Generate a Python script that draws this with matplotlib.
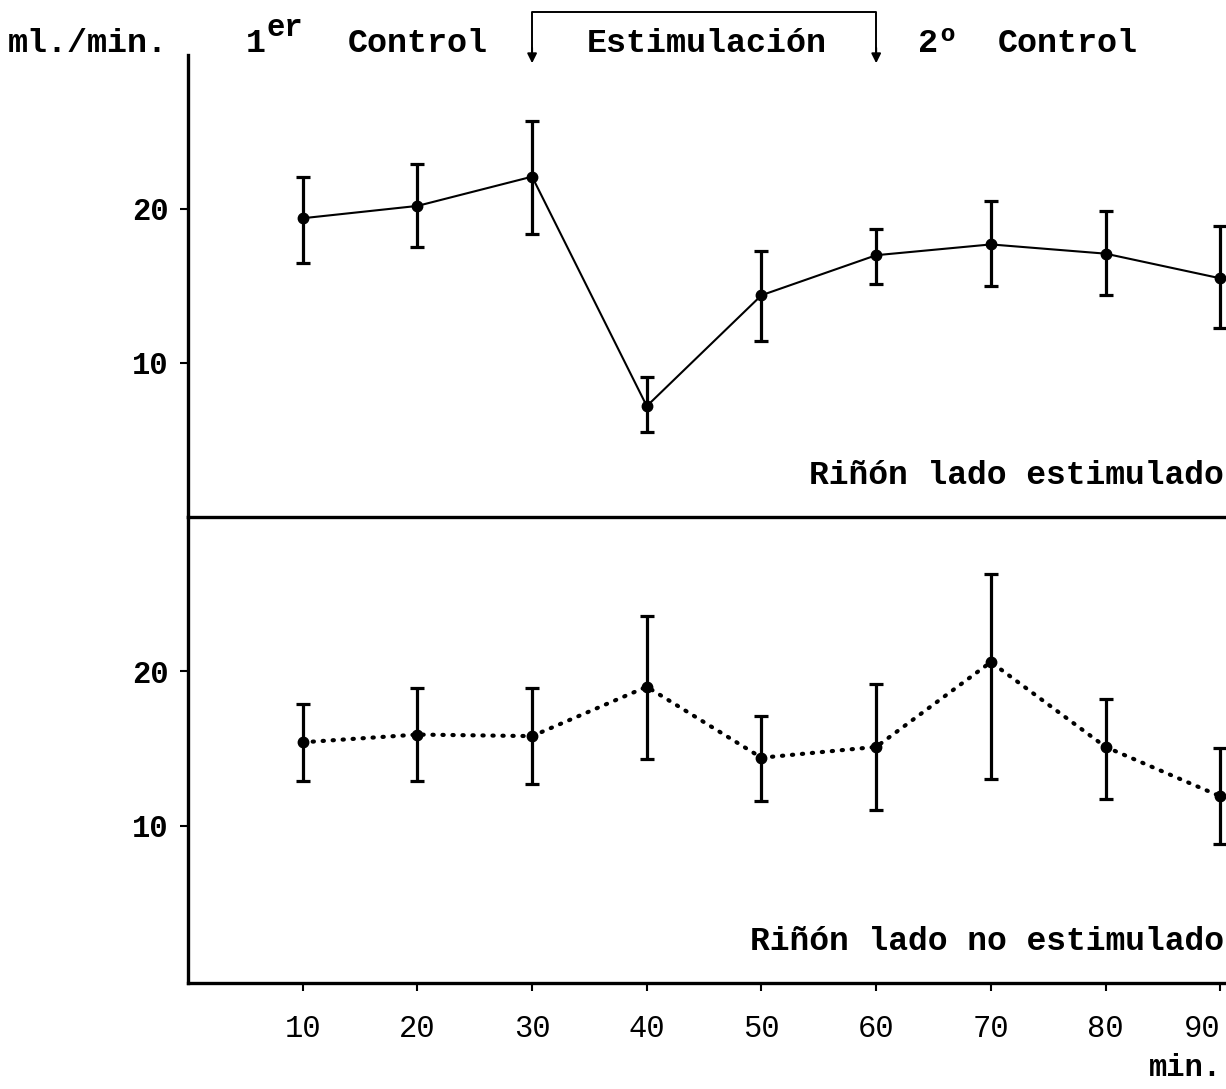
import numpy as np
import matplotlib
matplotlib.use("Agg")
import matplotlib.pyplot as plt
import matplotlib.transforms as mtransforms

# minutes
minutos = [10, 20, 30, 40, 50, 60, 70, 80, 90]

# Riñón lado estimulado (ml./min.)
est_media = [19.4, 20.2, 22.1, 7.2, 14.4, 17.0, 17.7, 17.1, 15.5]
est_sup = [22.1, 22.9, 25.7, 9.1, 17.3, 18.7, 20.5, 19.9, 18.9]
est_inf = [16.5, 17.5, 18.4, 5.5, 11.4, 15.1, 15.0, 14.4, 12.3]

# Riñón lado no estimulado (ml./min.)
noest_media = [15.4, 15.9, 15.8, 19.0, 14.4, 15.1, 20.6, 15.1, 11.9]
noest_sup = [17.9, 18.9, 18.9, 23.6, 17.1, 19.2, 26.3, 18.2, 15.0]
noest_inf = [12.9, 12.9, 12.7, 14.3, 11.6, 11.0, 13.0, 11.7, 8.8]

yticks = [10, 20]
xticks = [10, 20, 30, 40, 50, 60, 70, 80, 90]

FONT = "Liberation Mono"
W, H = 1226, 1089

fig = plt.figure(figsize=(W / 100, H / 100), dpi=100)
left = 188 / W
ax1 = fig.add_axes([left, (H - 517) / H, 1 - left, (517 - 55) / H])
ax2 = fig.add_axes([left, (H - 983) / H, 1 - left, (983 - 517) / H])

def errs(m, lo, hi):
    m = np.array(m)
    return [m - np.array(lo), np.array(hi) - m]

ax1.errorbar(minutos, est_media, yerr=errs(est_media, est_inf, est_sup),
             color="black", lw=1.5, marker="o", ms=7.5, elinewidth=2.3,
             capsize=5, capthick=2.3, clip_on=False)
ax2.errorbar(minutos, noest_media, yerr=errs(noest_media, noest_inf, noest_sup),
             color="black", lw=3.0, ls=(0, (0.3, 2.1)), dash_capstyle="round",
             marker="o", ms=7.5, elinewidth=2.3, capsize=5, capthick=2.3,
             clip_on=False)

for ax in (ax1, ax2):
    ax.set_xlim(0, 90.5)
    ax.set_ylim(0, 30)
    ax.spines["top"].set_visible(False)
    ax.spines["right"].set_visible(False)
    ax.spines["left"].set_linewidth(2.4)
    ax.spines["bottom"].set_linewidth(2.4)
    ax.set_yticks(yticks)
    ax.set_yticklabels([str(t) for t in yticks], fontfamily=FONT,
                       fontweight="bold", fontsize=22)
    ax.tick_params(axis="y", length=6, width=1.5, pad=8)
    ax.set_facecolor("none")

ax2.set_ylim(-0.2, 30)
ax1.set_xticks([])
ax2.set_xticks(xticks)
ax2.set_xticklabels([str(t) for t in xticks], fontfamily=FONT, fontsize=22)
ax2.tick_params(axis="x", length=6, width=1.5, pad=16)
# the last label sits a little to the left, as in the original
lab = ax2.get_xticklabels()[-1]
lab.set_transform(lab.get_transform() +
                  mtransforms.ScaledTranslation(-18 / 100, 0, fig.dpi_scale_trans))

ax1.text(0.998, 0.09, "Riñón lado estimulado", transform=ax1.transAxes,
         ha="right", va="center", fontfamily=FONT, fontweight="bold", fontsize=23.8)
ax2.text(0.998, 0.09, "Riñón lado no estimulado", transform=ax2.transAxes,
         ha="right", va="center", fontfamily=FONT, fontweight="bold", fontsize=23.8)

# header
def fy(py):
    return 1 - py / H

def fx(px):
    return px / W

fig.text(fx(8), fy(43), "ml./min.", fontfamily=FONT, fontweight="bold",
         fontsize=24, ha="left", va="center")
fig.text(fx(246), fy(43), "1", fontfamily=FONT, fontweight="bold", fontsize=24,
         ha="left", va="center")
fig.text(fx(266), fy(28), "er", fontfamily=FONT, fontweight="bold", fontsize=22,
         ha="left", va="center")
fig.text(fx(348), fy(43), "Control", fontfamily=FONT, fontweight="bold",
         fontsize=24, ha="left", va="center")
fig.text(fx(707), fy(43), "Estimulación", fontfamily=FONT, fontweight="bold",
         fontsize=24, ha="center", va="center")
fig.text(fx(918), fy(43), "2º", fontfamily=FONT, fontweight="bold", fontsize=24,
         ha="left", va="center")
fig.text(fx(998), fy(43), "Control", fontfamily=FONT, fontweight="bold",
         fontsize=24, ha="left", va="center")
fig.text(fx(1222), fy(1068), "min.", fontfamily=FONT, fontweight="bold",
         fontsize=22, ha="right", va="center")

# bracket with arrows over the stimulation period
blend = mtransforms.blended_transform_factory(ax1.transData, fig.transFigure)
ax1.plot([30, 30, 60, 60], [fy(55), fy(12), fy(12), fy(55)], color="black",
         lw=1.4, transform=blend, clip_on=False)
for xa in (30, 60):
    ax1.annotate("", xy=(xa, fy(66)), xytext=(xa, fy(45)),
                 xycoords=blend, textcoords=blend,
                 arrowprops=dict(arrowstyle="-|>", color="black", lw=1.4,
                                 mutation_scale=14))

fig.savefig("out.png", dpi=100)
